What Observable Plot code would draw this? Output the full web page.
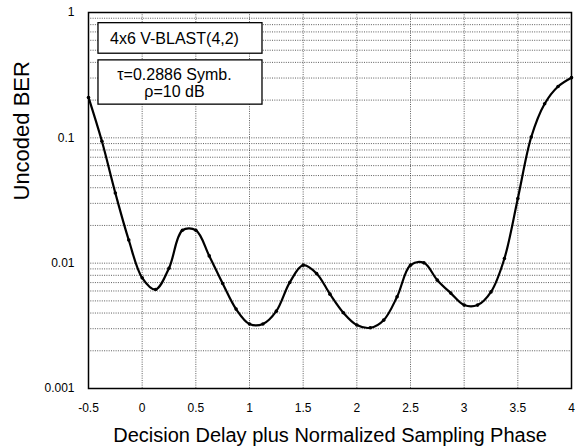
<!DOCTYPE html>
<html><head><meta charset="utf-8">
<script src="https://cdn.jsdelivr.net/npm/d3@7"></script>
<script src="https://cdn.jsdelivr.net/npm/@observablehq/plot@0.6"></script>
<style>body{margin:0;background:#fff}</style>
</head><body><div id="chart"></div>
<script>
// Data
const phase = [-0.5,-0.375,-0.25,-0.125,0,0.125,0.25,0.375,0.5,0.625,0.75,0.875,1,1.125,1.25,1.375,1.5,1.625,1.75,1.875,2,2.125,2.25,2.375,2.5,2.625,2.75,2.875,3,3.125,3.25,3.375,3.5,3.625,3.75,3.875,4];
const ber = [0.210,0.0938,0.0363,0.0153,0.00764,0.00617,0.00912,0.0183,0.0183,0.01143,0.00689,0.00430,0.00327,0.00327,0.00414,0.00702,0.00964,0.00828,0.00566,0.00402,0.00321,0.00305,0.00351,0.00539,0.00964,0.01006,0.00732,0.00577,0.00463,0.00463,0.00590,0.0109,0.0328,0.1015,0.187,0.257,0.302];

const xTicks = [-0.5,0,0.5,1,1.5,2,2.5,3,3.5,4];
const yTicks = [1,0.1,0.01,0.001];
const xGrid = [0,0.5,1,1.5,2,2.5,3,3.5];
const yGrid = [0.002,0.003,0.004,0.005,0.006,0.007,0.008,0.009,0.01,
               0.02,0.03,0.04,0.05,0.06,0.07,0.08,0.09,0.1,
               0.2,0.3,0.4,0.5,0.6,0.7,0.8,0.9];
const xTitle = "Decision Delay plus Normalized Sampling Phase";
const yTitle = "Uncoded BER";
const legendText = ["4x6 V-BLAST(4,2)", "τ=0.2886 Symb.\nρ=10 dB"];

// annotation anchors (data space)
const boxX1 = [-0.407,-0.407], boxX2 = [1.121,1.121];
const boxY1 = [0.469,0.184], boxY2 = [0.822,0.415];
const legendX = [0.301,0.301], legendY = [0.615,0.2744];

const rows = phase.map((p,i)=>({p, b: ber[i]}));
const boxes = boxX1.map((_,i)=>({x1:boxX1[i],x2:boxX2[i],y1:boxY1[i],y2:boxY2[i]}));
const legends = legendText.map((t,i)=>({t, x:legendX[i], y:legendY[i]}));

const font = "'Liberation Sans', Arial, Helvetica, sans-serif";
const chart = Plot.plot({
  width: 575, height: 448,
  marginLeft: 88, marginRight: 4, marginTop: 12, marginBottom: 60,
  style: {fontFamily: font, fontSize: "12px", color: "black", background: "white", overflow: "visible"},
  x: {domain: [-0.5, 4], label: null, axis: null},
  y: {type: "log", domain: [0.001, 1], label: null, axis: null},
  marks: [
    Plot.ruleX(xGrid, {x: d=>d, stroke: "#333", strokeWidth: 0.8, strokeDasharray: "1,1.3"}),
    Plot.ruleY(yGrid, {y: d=>d, stroke: "#333", strokeWidth: 0.8, strokeDasharray: "1,1.3"}),
    Plot.rect(boxes, {x1:"x1", x2:"x2", y1:"y1", y2:"y2", fill: "white", stroke: "black", strokeWidth: 1.3}),
    Plot.text(legends, {x:"x", y:"y", text:"t", fontSize: 16, lineHeight: 1.06, lineAnchor: "middle", fill: "black"}),
    Plot.line(rows, {x:"p", y:"b", curve: "catmull-rom", stroke: "black", strokeWidth: 2.2}),
    Plot.dot(rows, {x:"p", y:"b", r: 1.8, fill: "black", stroke: "none"}),
    Plot.axisX(xTicks, {tickSize: 0, tickPadding: 15, tickFormat: d=>String(d), fontSize: 12, label: null}),
    Plot.axisY(yTicks, {tickSize: 0, tickPadding: 14, tickFormat: d=>String(d), fontSize: 12, label: null}),
    Plot.text([xTitle], {frameAnchor: "bottom", dy: 47, text: d=>d, fontSize: 20, lineAnchor: "middle", fill: "black"}),
    Plot.text([yTitle], {frameAnchor: "left", dx: -67, rotate: -90, text: d=>d, fontSize: 22, lineAnchor: "middle", fill: "black"}),
    Plot.frame({stroke: "black", strokeWidth: 1.5})
  ]
});
document.getElementById("chart").append(chart);
</script>
</body></html>
